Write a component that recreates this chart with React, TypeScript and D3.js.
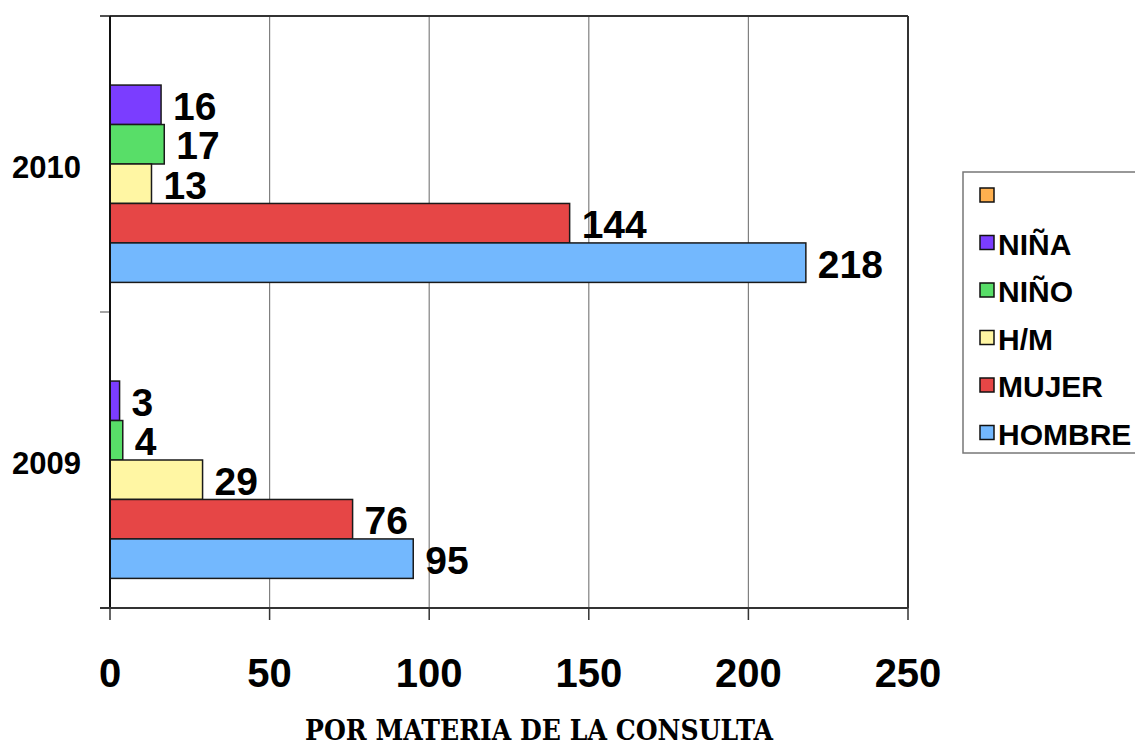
import React from "react";
import * as d3 from "d3";

// Consultation counts by year and group
const years = ["2010", "2009"];
const seriesNames = ["", "NIÑA", "NIÑO", "H/M", "MUJER", "HOMBRE"];
const sinDato: (number | null)[] = [null, null];
const nina = [16, 3];
const nino = [17, 4];
const hm = [13, 29];
const mujer = [144, 76];
const hombre = [218, 95];
const xTicks = [0, 50, 100, 150, 200, 250];
const seriesColors = ["#ffb04f", "#7b3dff", "#58de68", "#fff6a3", "#e64646", "#73b8fe"];

const seriesValues: (number | null)[][] = [sinDato, nina, nino, hm, mujer, hombre];

const W = 1135;
const H = 745;
const plot = { left: 110, right: 908, top: 16, bottom: 608 };

export default function App() {
  const x = d3.scaleLinear().domain([0, 250]).range([plot.left, plot.right]);
  const yOuter = d3.scaleBand<string>().domain(years).range([plot.top, plot.bottom]).padding(0);
  const yInner = d3
    .scaleBand<string>()
    .domain(seriesNames.map((_, i) => String(i)))
    .range([0, yOuter.bandwidth()])
    .paddingInner(0)
    .paddingOuter(0.75);

  const font = "Arial, 'Liberation Sans', Helvetica, sans-serif";
  const legendX = 963;
  const legendY = 172;
  const legendStep = 47.5;

  return (
    <svg
      width={W}
      height={H}
      style={{ position: "absolute", left: 0, top: 0, background: "#fff" }}
    >
      {/* vertical gridlines */}
      {xTicks.slice(1, -1).map((t) => (
        <line key={`g${t}`} x1={x(t)} x2={x(t)} y1={plot.top} y2={plot.bottom} stroke="#808080" strokeWidth={1.2} />
      ))}
      {/* plot frame */}
      <line x1={plot.left - 10} x2={plot.right} y1={plot.top} y2={plot.top} stroke="#333" strokeWidth={2} />
      <line x1={plot.right} x2={plot.right} y1={plot.top} y2={plot.bottom} stroke="#333" strokeWidth={2} />
      {/* category ticks */}
      {[plot.top, ...years.map((yr) => (yOuter(yr) as number) + yOuter.bandwidth())].map((yy, i) => (
        <line key={`yt${i}`} x1={plot.left - 10} x2={plot.left} y1={yy} y2={yy} stroke="#666" strokeWidth={1.2} />
      ))}

      {/* bars */}
      {years.map((yr, yi) =>
        seriesValues.map((vals, si) => {
          const v = vals[yi];
          if (v == null) return null;
          const y0 = (yOuter(yr) as number) + (yInner(String(si)) as number);
          return (
            <rect
              key={`b${yi}-${si}`}
              x={x(0)}
              y={y0}
              width={x(v) - x(0)}
              height={yInner.bandwidth()}
              fill={seriesColors[si]}
              stroke="#1a1a1a"
              strokeWidth={1.5}
            />
          );
        })
      )}

      {/* axes lines */}
      <line x1={plot.left} x2={plot.left} y1={plot.top} y2={plot.bottom} stroke="#111" strokeWidth={2} />
      <line x1={plot.left - 10} x2={plot.right} y1={plot.bottom} y2={plot.bottom} stroke="#333" strokeWidth={2} />
      {xTicks.map((t) => (
        <line key={`xt${t}`} x1={x(t)} x2={x(t)} y1={plot.bottom} y2={plot.bottom + 12} stroke="#333" strokeWidth={1.5} />
      ))}

      {/* value labels */}
      {years.map((yr, yi) =>
        seriesValues.map((vals, si) => {
          const v = vals[yi];
          if (v == null) return null;
          const yc = (yOuter(yr) as number) + (yInner(String(si)) as number) + yInner.bandwidth() / 2;
          return (
            <text
              key={`l${yi}-${si}`}
              x={x(v) + 12}
              y={yc + 15}
              fontFamily={font}
              fontWeight="bold"
              fontSize={39}
              fill="#000"
            >
              {v}
            </text>
          );
        })
      )}

      {/* x tick labels */}
      {xTicks.map((t) => (
        <text
          key={`xl${t}`}
          x={x(t)}
          y={687}
          textAnchor="middle"
          fontFamily={font}
          fontWeight="bold"
          fontSize={40}
          fill="#000"
        >
          {t}
        </text>
      ))}

      {/* category labels */}
      {years.map((yr) => (
        <text
          key={`yl${yr}`}
          x={81}
          y={(yOuter(yr) as number) + yOuter.bandwidth() / 2 + 14}
          textAnchor="end"
          fontFamily={font}
          fontWeight="bold"
          fontSize={31}
          fill="#000"
        >
          {yr}
        </text>
      ))}

      {/* legend */}
      <rect x={legendX} y={legendY} width={W - legendX + 5} height={453 - legendY} fill="#fff" stroke="#777" strokeWidth={1.5} />
      {seriesNames.map((name, i) => {
        const cy = 195 + i * legendStep;
        return (
          <g key={`lg${i}`}>
            <rect x={980} y={cy - 7} width={14} height={14} fill={seriesColors[i]} stroke="#111" strokeWidth={1.5} />
            <text x={998} y={cy + 12} fontFamily={font} fontWeight="bold" fontSize={30} fill="#000">
              {name}
            </text>
          </g>
        );
      })}

      {/* axis title */}
      <text
        x={539}
        y={740}
        textAnchor="middle"
        fontFamily="'DejaVu Serif', 'Liberation Serif', serif"
        fontWeight="bold"
        fontSize={27}
        textLength={468}
        lengthAdjust="spacingAndGlyphs"
        fill="#000"
      >
        POR MATERIA DE LA CONSULTA
      </text>
    </svg>
  );
}
